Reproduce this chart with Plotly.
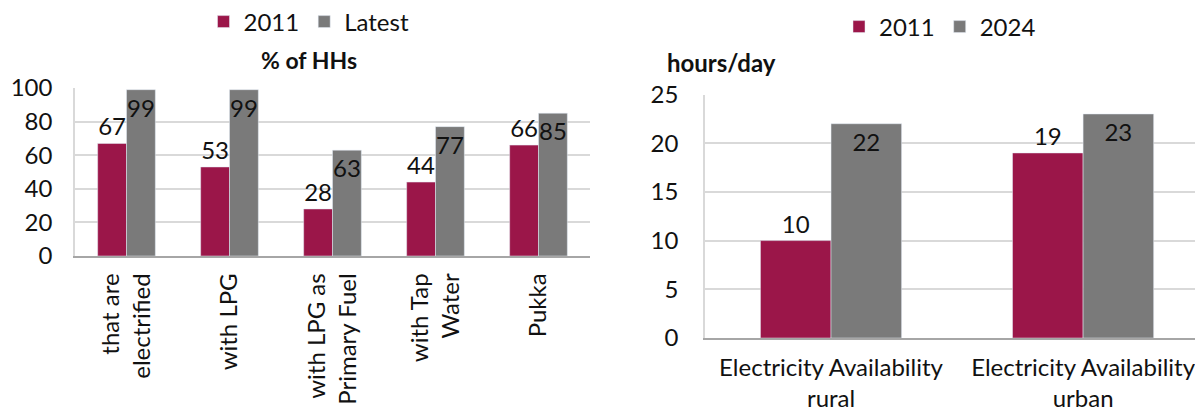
import plotly.graph_objects as go

# Household amenities (% of households)
hh_categories = ["that are<br>electrified", "with LPG", "with LPG as<br>Primary Fuel",
                 "with Tap<br>Water", "Pukka"]
hh_2011 = [67, 53, 28, 44, 66]
hh_latest = [99, 99, 63, 77, 85]

# Electricity availability (hours/day)
power_categories = ["Electricity Availability<br>rural", "Electricity Availability<br>urban"]
power_2011 = [10, 19]
power_2024 = [22, 23]

MAROON = "#9B1649"
GREY = "#7A7A7A"
GRID = "#D9D9D9"
FONT = "Lato"
W, H = 1195, 407

fig = go.Figure()

bar_common = dict(texttemplate="%{y:.0f}", cliponaxis=False,
                  textfont=dict(family=FONT, size=24, color="#111111"))

fig.add_trace(go.Bar(x=hh_categories, y=hh_2011, name="2011", marker_color=MAROON,
                     textposition="outside", xaxis="x", yaxis="y", legend="legend",
                     **bar_common))
fig.add_trace(go.Bar(x=hh_categories, y=hh_latest, name="Latest", marker_color=GREY,
                     textposition="inside", insidetextanchor="end",
                     xaxis="x", yaxis="y", legend="legend", **bar_common))
fig.add_trace(go.Bar(x=power_categories, y=power_2011, name="2011", marker_color=MAROON,
                     textposition="outside", xaxis="x2", yaxis="y2", legend="legend2",
                     **bar_common))
fig.add_trace(go.Bar(x=power_categories, y=power_2024, name="2024", marker_color=GREY,
                     textposition="inside", insidetextanchor="end",
                     xaxis="x2", yaxis="y2", legend="legend2", **bar_common))

tick_font = dict(family=FONT, size=24, color="#111111")

fig.update_layout(
    width=W, height=H,
    margin=dict(l=0, r=0, t=0, b=0, autoexpand=False),
    paper_bgcolor="white", plot_bgcolor="white",
    barmode="group", bargap=0.44, bargroupgap=0,
    uniformtext=dict(minsize=24, mode="show"),
    font=dict(family=FONT, size=24, color="#111111"),
    xaxis=dict(domain=[75 / W, 590 / W], anchor="y", range=[-0.5, 4.5],
               tickangle=-90, tickfont=tick_font, showline=True, linecolor="#A6A6A6",
               linewidth=1.5, ticks="", showgrid=False, automargin=False,
               ticklabelstandoff=6),
    yaxis=dict(domain=[1 - 256 / H, 1 - 88 / H], anchor="x", range=[0, 100],
               dtick=20, tickfont=tick_font, showgrid=True, gridcolor=GRID,
               gridwidth=1.5, showline=True, linecolor=GRID, linewidth=1.5,
               ticks="", ticklabelstandoff=16, zeroline=False, automargin=False),
    xaxis2=dict(domain=[705 / W, 1.0], anchor="y2", range=[-0.5, 1.444],
                tickfont=tick_font, showline=True, linecolor="#A6A6A6",
                linewidth=1.5, ticks="", showgrid=False, ticklabelstandoff=7,
                automargin=False),
    yaxis2=dict(domain=[1 - 338 / H, 1 - 94.5 / H], anchor="x2", range=[0, 25],
                dtick=5, tickfont=tick_font, showgrid=True, gridcolor=GRID,
                gridwidth=1.5, showline=True, linecolor=GRID, linewidth=1.5,
                ticks="", ticklabelstandoff=20, zeroline=False, automargin=False),
    legend=dict(orientation="h", x=309 / W, xanchor="center", y=1 - 22 / H,
                yanchor="middle", font=dict(family=FONT, size=24, color="#111111"),
                itemwidth=30, bgcolor="rgba(0,0,0,0)"),
    legend2=dict(orientation="h", x=940 / W, xanchor="center", y=1 - 27 / H,
                 yanchor="middle", font=dict(family=FONT, size=24, color="#111111"),
                 itemwidth=30, bgcolor="rgba(0,0,0,0)"),
    annotations=[
        dict(text="<b>% of HHs</b>", xref="paper", yref="paper", x=309 / W,
             y=1 - 60 / H, xanchor="center", yanchor="middle", showarrow=False,
             font=dict(family=FONT, size=23, color="#111111")),
        dict(text="<b>hours/day</b>", xref="paper", yref="paper", x=665 / W,
             y=1 - 62 / H, xanchor="left", yanchor="middle", showarrow=False,
             font=dict(family=FONT, size=24, color="#111111")),
    ],
    showlegend=True,
)

fig.write_html("out.html")
